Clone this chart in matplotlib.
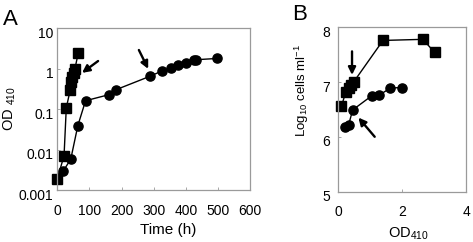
import numpy as np
import matplotlib.pyplot as plt
from matplotlib.transforms import ScaledTranslation

plt.rcParams['font.family'] = ['Liberation Sans', 'DejaVu Sans']
plt.rcParams['mathtext.fontset'] = 'custom'
plt.rcParams['mathtext.rm'] = 'Liberation Sans'
plt.rcParams['mathtext.it'] = 'Liberation Sans:italic'

# Panel A: OD410 vs time
sq_time = [0, 21, 28, 40, 44, 47, 51, 55, 65]
sq_od = [0.0019, 0.007, 0.107, 0.29, 0.46, 0.6, 0.78, 1.0, 2.35]
ci_time = [0, 18, 42, 64, 88, 160, 183, 288, 326, 353, 376, 400, 426, 433, 498]
ci_od = [0.0019, 0.0029, 0.0058, 0.039, 0.16, 0.225, 0.30, 0.64, 0.87, 1.01, 1.2, 1.38, 1.59, 1.65, 1.77]

# Panel B: log10 cells/ml vs OD410
sq_b_od = [0.1, 0.23, 0.34, 0.41, 0.48, 1.40, 2.65, 3.02]
sq_b_cells = [6.56, 6.81, 6.89, 6.95, 7.0, 7.76, 7.78, 7.54]
ci_b_od = [0.21, 0.32, 0.45, 1.05, 1.28, 1.63, 1.98]
ci_b_cells = [6.17, 6.21, 6.49, 6.75, 6.76, 6.89, 6.9]

W, H = 473, 242
fig = plt.figure(figsize=(W / 100, H / 100), dpi=100)
axA = fig.add_axes([57.3 / W, 1 - 190 / H, (250 - 57.3) / W, (190 - 28) / H])
axB = fig.add_axes([338.3 / W, 1 - 191.5 / H, (466 - 338.3) / W, (191.5 - 27.3) / H])

fs = 10
for ax in (axA, axB):
    for s in ax.spines.values():
        s.set_color('#9a9a9a')
        s.set_linewidth(0.9)
    ax.tick_params(labelsize=fs, length=2, width=0.6, color='#9a9a9a', direction='in')
    ax.tick_params(axis='x', pad=10)
axA.tick_params(axis='y', pad=3)
axB.tick_params(axis='y', pad=6)

mk = dict(color='black', lw=1.0, markersize=6.6, clip_on=False)
axA.plot(ci_time, ci_od, marker='o', **mk)
axA.plot(sq_time, sq_od, marker='s', **mk)
axA.set_yscale('log')
axA.set_ylim(0.001, 10)
axA.set_xlim(0, 600)
axA.set_xticks([0, 100, 200, 300, 400, 500, 600])
axA.set_yticks([0.001, 0.01, 0.1, 1, 10])
axA.set_yticklabels(['0.001', '0.01', '0.1', '1', '10'])
axA.minorticks_off()
axA.set_xlabel('Time (h)', fontsize=11)
axA.xaxis.set_label_coords((168 - 57.3) / (250 - 57.3), -(223 - 190) / 162)
axA.set_ylabel('OD $_{410}$', fontsize=10.5)
axA.yaxis.set_label_coords(-(57.3 - 18) / (250 - 57.3), 0.5)

axB.plot(ci_b_od, ci_b_cells, marker='o', **mk)
axB.plot(sq_b_od, sq_b_cells, marker='s', **mk)
axB.set_xlim(0, 4)
axB.set_ylim(5, 8)
axB.set_xticks([0, 2, 4])
axB.set_yticks([5, 6, 7, 8])
axB.set_xlabel('OD$_{410}$', fontsize=10.5)
axB.xaxis.set_label_coords((408 - 338.3) / (466 - 338.3), -(226 - 191.5) / 164.2)
axB.set_ylabel('Log$_{10}$ cells ml$^{-1}$', fontsize=9.5)
axB.yaxis.set_label_coords(-(338.3 - 311) / (466 - 338.3), (191.5 - 90) / 164.2)

# shift y tick labels slightly down like the original
off = ScaledTranslation(0, -3 / 72, fig.dpi_scale_trans)
for ax in (axA, axB):
    for lab in ax.get_yticklabels():
        lab.set_transform(lab.get_transform() + off)

ap = dict(arrowstyle='-|>', color='black', lw=1.7, mutation_scale=11, shrinkA=0, shrinkB=0)
axA.annotate('', xy=(77, 0.78), xytext=(127, 1.53), arrowprops=ap)
axA.annotate('', xy=(283, 0.98), xytext=(254, 2.86), arrowprops=ap)
axB.annotate('', xy=(0.43, 7.13), xytext=(0.43, 7.56), arrowprops=ap)
axB.annotate('', xy=(0.63, 6.35), xytext=(1.14, 6.0), arrowprops=ap)

fig.text(3 / W, 1 - 25 / H, 'A', fontsize=16)
fig.text(292 / W, 1 - 20 / H, 'B', fontsize=16)

fig.savefig('out.png', dpi=100)
